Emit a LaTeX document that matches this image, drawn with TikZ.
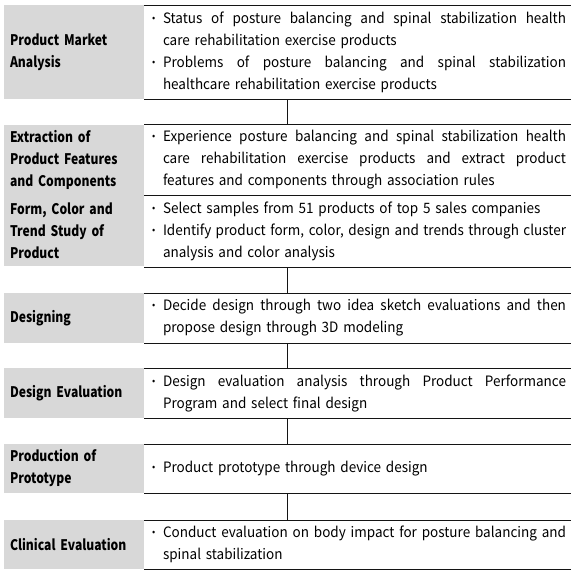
\documentclass[tikz,border=0pt]{standalone}
\usepackage{fontspec}
\setmainfont{Noto Sans CJK KR}[FakeStretch=0.945, BoldFeatures={FakeStretch=0.83}]
\definecolor{labgray}{RGB}{216,216,216}
\definecolor{rulecol}{RGB}{20,20,20}
\newcommand\bul{\raisebox{0.25ex}{\scalebox{0.7}{•}}}
\newcommand\jline[1]{\makebox[403pt][s]{\spaceskip=0.25em plus 1fil minus 0.05em\relax #1}}
\newcommand\bj[1]{\makebox[11pt][l]{\bul}\jline{#1}}
\newcommand\bl[1]{\makebox[11pt][l]{\bul}#1}
\newcommand\cj[1]{\hspace*{11pt}\jline{#1}}
\newcommand\cl[1]{\hspace*{11pt}#1}
\tikzset{
  rowspan/.style={minimum width=567pt, inner sep=0pt, outer sep=0pt},
  lab/.style={font=\fontsize{14.6pt}{22pt}\selectfont\bfseries, fill=labgray, anchor=west, minimum width=140pt, text width=128pt, inner xsep=6pt, inner ysep=0pt, outer sep=0pt, align=left},
  txt/.style={font=\fontsize{14.3pt}{22pt}\selectfont, anchor=west, text width=414pt, inner xsep=8pt, inner ysep=0pt, outer sep=0pt, align=left},
  rule/.style={draw=rulecol, line width=0.8pt},
}
\begin{document}
\begin{tikzpicture}[x=1pt,y=-1pt]
\useasboundingbox (0,0) rectangle (573,571);
% rows
\node[rowspan, minimum height=94pt] (row1) at (287.5,52) {};
\node[rowspan, minimum height=71.5pt] (row2) at (287.5,159.75) {};
\node[rowspan, minimum height=71.5pt] (row3) at (287.5,231.25) {};
\node[rowspan, minimum height=50pt] (row4) at (287.5,318) {};
\node[rowspan, minimum height=50pt] (row5) at (287.5,393) {};
\node[rowspan, minimum height=49pt] (row6) at (287.5,468.5) {};
\node[rowspan, minimum height=49pt] (row7) at (287.5,544.5) {};
% labels
\node[lab, minimum height=94pt] (lab1) at (row1.west) {Product Market\\Analysis};
\node[lab, minimum height=70.5pt] (lab2) at ([yshift=-0.5pt]row2.west) {Extraction of\\Product Features\\and Components};
\node[lab, minimum height=70.5pt] (lab3) at ([yshift=0.5pt]row3.west) {Form, Color and\\Trend Study of\\Product};
\node[lab, minimum height=50pt] (lab4) at (row4.west) {Designing};
\node[lab, minimum height=50pt] (lab5) at (row5.west) {Design Evaluation};
\node[lab, minimum height=49pt] (lab6) at (row6.west) {Production of\\Prototype};
\node[lab, minimum height=49pt] (lab7) at (row7.west) {Clinical Evaluation};
% texts
\node[txt] (txt1) at (lab1.east) {\bj{Status of posture balancing and spinal stabilization health}\\\cl{care rehabilitation exercise products}\\\bj{Problems of posture balancing and spinal stabilization}\\\cl{healthcare rehabilitation exercise products}};
\node[txt] (txt2) at (lab2.east|-row2.west) {\bj{Experience posture balancing and spinal stabilization health}\\\cj{care rehabilitation exercise products and extract product}\\\cl{features and components through association rules}};
\node[txt] (txt3) at (lab3.east|-row3.west) {\bl{Select samples from 51 products of top 5 sales companies}\\\bj{Identify product form, color, design and trends through cluster}\\\cl{analysis and color analysis}};
\node[txt] (txt4) at (lab4.east) {\bj{Decide design through two idea sketch evaluations and then}\\\cl{propose design through 3D modeling}};
\node[txt] (txt5) at (lab5.east) {\bj{Design evaluation analysis through Product Performance}\\\cl{Program and select final design}};
\node[txt] (txt6) at (lab6.east) {\bl{Product prototype through device design}};
\node[txt] (txt7) at (lab7.east) {\bj{Conduct evaluation on body impact for posture balancing and}\\\cl{spinal stabilization}};
% rules
\foreach \i in {1,...,7}{
  \draw[rule] (lab1.east|-row\i.north) -- (row\i.north east);
  \draw[rule] (lab1.east|-row\i.south) -- (row\i.south east);
}
% connectors
\draw[rule] (row1.south) -- (row2.north);
\draw[rule] (row3.south) -- (row4.north);
\draw[rule] (row4.south) -- (row5.north);
\draw[rule] (row5.south) -- (row6.north);
\draw[rule] (row6.south) -- (row7.north);
\end{tikzpicture}
\end{document}
